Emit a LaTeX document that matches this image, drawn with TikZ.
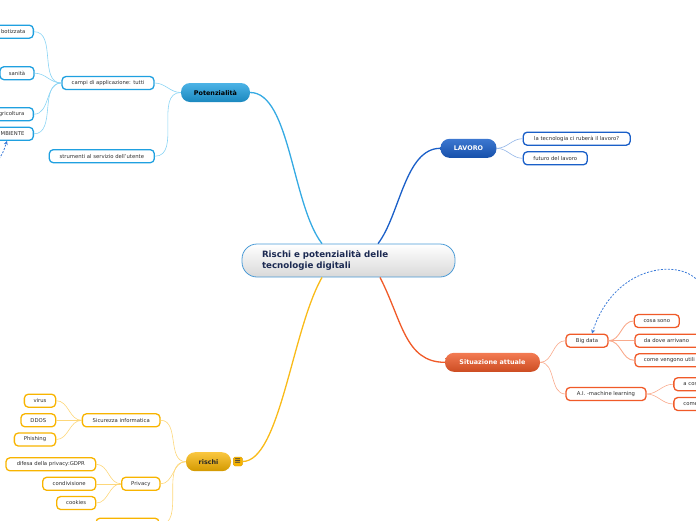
\documentclass[tikz,border=0pt]{standalone}
\usepackage{fontspec}
\setmainfont{DejaVu Sans}
\usetikzlibrary{calc,arrows.meta}
\definecolor{potc}{HTML}{1FA0E0}
\definecolor{potl}{HTML}{8AD4F4}
\definecolor{lavc}{HTML}{1A5FC8}
\definecolor{lavl}{HTML}{93B6E8}
\definecolor{sitc}{HTML}{F05A28}
\definecolor{sitl}{HTML}{F9AA8C}
\definecolor{risc}{HTML}{F8B400}
\definecolor{risl}{HTML}{FDD77A}
\definecolor{leaftext}{HTML}{2E2E2E}
\definecolor{centtext}{HTML}{1C2A52}
\definecolor{centborder}{HTML}{4B9BD6}
\definecolor{dashblue}{HTML}{3A7AD8}
\begin{document}
\begin{tikzpicture}[x=1pt,y=-1pt,
  leaf/.style={draw, line width=1.3pt, rounded corners=4pt, fill=white, inner sep=0pt,
    minimum height=13pt, font=\fontsize{5.3}{6}\selectfont, text=leaftext},
  potleaf/.style={leaf, draw=potc},
  lavleaf/.style={leaf, draw=lavc},
  sitleaf/.style={leaf, draw=sitc},
  risleaf/.style={leaf, draw=risc},
  mainbr/.style={rounded corners=9pt, inner sep=0pt, minimum height=19pt,
    font=\fontsize{6.4}{7}\selectfont\bfseries},
  cutleft/.style={anchor=east, inner xsep=#1},
  cutright/.style={anchor=west, inner xsep=#1, text width=70pt, align=left},
  potline/.style={draw=potl, line width=0.6pt},
  lavline/.style={draw=lavl, line width=0.6pt},
  sitline/.style={draw=sitl, line width=0.6pt},
  risline/.style={draw=risl, line width=0.6pt},
  dasharrow/.style={draw=dashblue, dash pattern=on 2pt off 1.5pt, line width=0.8pt,
    -{Stealth[length=4pt,width=4pt]}}
]
\useasboundingbox (0,0) rectangle (696,520);

% central node
\node[draw=centborder, line width=0.8pt, rounded corners=15pt, top color=white, bottom color=black!15,
  minimum width=213pt, minimum height=33pt, text width=173pt, inner xsep=20pt, inner ysep=0pt,
  align=left, font=\fontsize{8.7}{11}\selectfont\bfseries, text=centtext]
  (c) at (348.5,260.5) {Rischi e potenzialità delle\\tecnologie digitali};

% main branches
\node[mainbr, top color=potc!80!white, bottom color=potc!85!black, minimum width=69pt, text=black]
  (pot) at (215.5,92.5) {Potenzialità};
\node[mainbr, top color=lavc!85!white, bottom color=lavc!85!black, minimum width=56pt, text=white]
  (lav) at (468.5,148.3) {LAVORO};
\node[mainbr, top color=sitc!80!white, bottom color=sitc!85!black, minimum width=95pt, text=white]
  (sit) at (492.5,362.3) {Situazione attuale};
\node[mainbr, top color=risc!75!white, bottom color=risc!85!black, minimum width=45pt, text=black!85]
  (ris) at (208.5,461.7) {rischi};
\node[draw=risc!85!black, fill=risc, rounded corners=1.5pt, minimum width=9pt, minimum height=9pt,
  inner sep=0pt, font=\fontsize{8}{8}\selectfont\bfseries, text=black!75] (icon) at (237.8,461.5) {≡};

% Potenzialita children
\node[potleaf, minimum width=92pt] (campi) at (108,83) {campi di applicazione: tutti};
\node[potleaf, minimum width=105pt] (strum) at (101.8,156.2) {strumenti al servizio dell'utente};
\node[potleaf, cutleft=8pt] (rob) at (34,31.7) {botizzata};
\node[potleaf, minimum width=34pt] (san) at (17,73.2) {sanità};
\node[potleaf, cutleft=9pt] (agr) at (34,114.2) {gricoltura};
\node[potleaf, cutleft=9pt] (amb) at (34,133.8) {MBIENTE};

% LAVORO children
\node[lavleaf, minimum width=107pt] (rub) at (576.7,138.7) {la tecnologia ci ruberà il lavoro?};
\node[lavleaf, minimum width=64pt] (fut) at (555.3,158.3) {futuro del lavoro};

% Situazione children
\node[sitleaf, minimum width=42pt] (big) at (587,340.7) {Big data};
\node[sitleaf, minimum width=80pt] (ai) at (606,394) {A.I. -machine learning};
\node[sitleaf, minimum width=45pt] (cosa) at (656.8,321) {cosa sono};
\node[sitleaf, cutright=9pt] (dove) at (634.3,340.7) {da dove arrivano};
\node[sitleaf, cutright=9pt] (come) at (634.3,360.3) {come vengono utili};
\node[sitleaf, cutright=9.5pt] (acos) at (673.2,384.2) {a cos};
\node[sitleaf, cutright=9.5pt] (come2) at (673.2,404) {come};

% rischi children
\node[risleaf, minimum width=77.7pt] (sic) at (121.2,420.3) {Sicurezza informatica};
\node[risleaf, minimum width=38.3pt] (priv) at (140.8,483.8) {Privacy};
\node[risleaf, minimum width=63pt] (bot) at (127.5,524.7) {};
\node[risleaf, minimum width=31.3pt] (vir) at (40,400.7) {virus};
\node[risleaf, minimum width=34.7pt] (ddos) at (38.3,420.3) {DDOS};
\node[risleaf, minimum width=41.3pt] (phi) at (35,439.5) {Phishing};
\node[risleaf, minimum width=89.7pt] (gdpr) at (50.8,464.3) {difesa della privacy:GDPR};
\node[risleaf, minimum width=53pt] (cond) at (69.2,483.8) {condivisione};
\node[risleaf, minimum width=39pt] (cook) at (76.2,503) {cookies};

% main connectors
\draw[draw=potc!90!white, line width=1.3pt] (pot.east) .. controls (290,92.5) and (292,205) .. ($(c.north)+(-26.5,0)$);
\draw[draw=lavc, line width=1.3pt] (lav.west) .. controls (405,148.3) and (400,215) .. ($(c.north)+(29.5,0)$);
\draw[draw=sitc, line width=1.3pt] ($(c.south)+(31.5,0)$) .. controls (402,320) and (405,362.3) .. (sit.west);
\draw[draw=risc!90!white, line width=1.3pt] (icon.east) .. controls (280,461.5) and (292,330) .. ($(c.south)+(-26.5,0)$);

% Potenzialita leaf connectors
\foreach \n in {campi,strum}
  \draw[potline] (pot.west) to[out=180,in=0] (\n.east);
\foreach \n in {rob,san,agr,amb}
  \draw[potline] (campi.west) to[out=180,in=0] (\n.east);

% LAVORO leaf connectors
\foreach \n in {rub,fut}
  \draw[lavline] (lav.east) to[out=0,in=180] (\n.west);

% Situazione leaf connectors
\foreach \n in {big,ai}
  \draw[sitline] (sit.east) to[out=0,in=180] (\n.west);
\foreach \n in {cosa,dove,come}
  \draw[sitline, line width=0.9pt] (big.east) to[out=0,in=180] (\n.west);
\foreach \n in {acos,come2}
  \draw[sitline] (ai.east) to[out=0,in=180] (\n.west);

% rischi leaf connectors
\foreach \n in {sic,priv,bot}
  \draw[risline] (ris.west) to[out=180,in=0] (\n.east);
\foreach \n in {vir,ddos,phi}
  \draw[risline] (sic.west) to[out=180,in=0] (\n.east);
\foreach \n in {gdpr,cond,cook}
  \draw[risline] (priv.west) to[out=180,in=0] (\n.east);

% dashed relation arrows
\coordinate (dl) at (-3,162);
\coordinate (dr) at (700,284);
\draw[dasharrow] (dl) .. controls (3,153) .. ($(amb.south east)+(-27,0)$);
\draw[dasharrow] (dr) .. controls (685,258) and (615,262) .. ($(big.north)+(5,0)$);
\end{tikzpicture}
\end{document}
